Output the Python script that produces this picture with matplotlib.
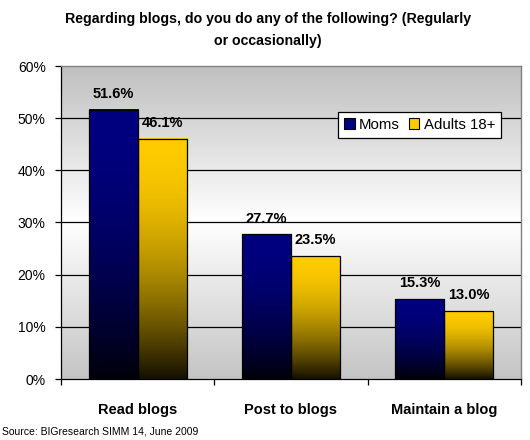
import numpy as np
import matplotlib
matplotlib.use('Agg')
import matplotlib.pyplot as plt
import matplotlib.patches as mpatches
import matplotlib.colors as mcolors

plt.rcParams['font.family'] = ['Liberation Sans', 'DejaVu Sans']

# ── data ──────────────────────────────────────────────
categories = ["Read blogs", "Post to blogs", "Maintain a blog"]
moms = [51.6, 27.7, 15.3]
adults = [46.1, 23.5, 13.0]
series_names = ["Moms", "Adults 18+"]
series_colors = ["#000080", "#FFCC00"]

BAR_W = 0.32


def gradient_bar(ax, x0, width, height, color):
    """bar filled from colour (top) to almost black (bottom)"""
    base = np.array(mcolors.to_rgb(color))
    t = np.linspace(0, 1, 200)[:, None]          # 0 = top, 1 = bottom
    fac = 1 - 0.92 * t**1.8
    img = (fac * base)[:, None, :]
    ax.imshow(img, extent=(x0, x0 + width, 0, height), aspect='auto',
              origin='upper', zorder=3, interpolation='bilinear')
    ax.add_patch(mpatches.Rectangle((x0, 0), width, height, fill=False,
                                    edgecolor='black', lw=0.9, zorder=4))


fig = plt.figure(figsize=(5.3, 4.4), dpi=100)
ax = fig.add_axes([61/530, 61/440, 460/530, 313/440])

# plot-area background: gray -> white -> gray
g = np.concatenate([np.linspace(0.75, 1.0, 100), np.linspace(1.0, 0.77, 100)])
bg = np.repeat(g[:, None], 3, axis=1)[:, None, :]
ax.imshow(bg, extent=(-0.5, 2.5, 0, 60), aspect='auto', origin='upper',
          zorder=0, interpolation='bilinear')

for yv in range(10, 60, 10):
    ax.axhline(yv, color='black', lw=0.9, zorder=1)

x = np.arange(len(categories))
for i in range(len(categories)):
    for j, (vals, col) in enumerate([(moms, series_colors[0]),
                                     (adults, series_colors[1])]):
        x0 = x[i] - BAR_W + j * BAR_W
        gradient_bar(ax, x0, BAR_W, vals[i], col)
        ax.annotate(f"{vals[i]:.1f}%", (x0 + BAR_W / 2, vals[i]),
                    xytext=(0, 11.5), textcoords='offset points',
                    ha='center', va='center', fontsize=10.5,
                    fontweight='bold', zorder=5)

ax.set_xlim(-0.5, 2.5)
ax.set_ylim(0, 60)
ax.set_yticks(range(0, 61, 10))
ax.set_yticklabels([f"{v}%" for v in range(0, 61, 10)], fontsize=10)
ax.set_xticks(x)
ax.set_xticklabels(categories, fontsize=10.5, fontweight='bold')
ax.set_xticks([-0.5, 0.5, 1.5, 2.5], minor=True)
ax.tick_params(axis='x', which='major', length=0, pad=17)
ax.tick_params(axis='x', which='minor', length=4, width=0.9, direction='out')
ax.tick_params(axis='y', length=4, width=0.9, direction='out', pad=7)

for s in ['top', 'right']:
    ax.spines[s].set_color('#808080')
    ax.spines[s].set_linewidth(1.0)
for s in ['left', 'bottom']:
    ax.spines[s].set_color('black')
    ax.spines[s].set_linewidth(0.9)

handles = [mpatches.Patch(facecolor=c, edgecolor='black', lw=0.8, label=n)
           for n, c in zip(series_names, series_colors)]
leg = ax.legend(handles=handles, ncol=2, loc='upper left',
                bbox_to_anchor=(277/460, (379 - 112) / 313),
                fontsize=10.8, frameon=True, fancybox=False,
                edgecolor='black', framealpha=1.0,
                handlelength=0.7, handleheight=0.7, handletextpad=0.3,
                columnspacing=0.6, borderpad=0.4, borderaxespad=0)
leg.get_frame().set_linewidth(0.9)
leg.set_zorder(6)

fig.text(268/530, 1 - 30/440,
         "Regarding blogs, do you do any of the following? (Regularly\nor occasionally)",
         ha='center', va='center', fontsize=10.2, fontweight='bold',
         linespacing=1.7)
fig.text(2/530, 1 - 431/440, "Source: BIGresearch SIMM 14, June 2009",
         ha='left', va='center', fontsize=7.5)

fig.savefig('out.png', dpi=100, facecolor='white')
